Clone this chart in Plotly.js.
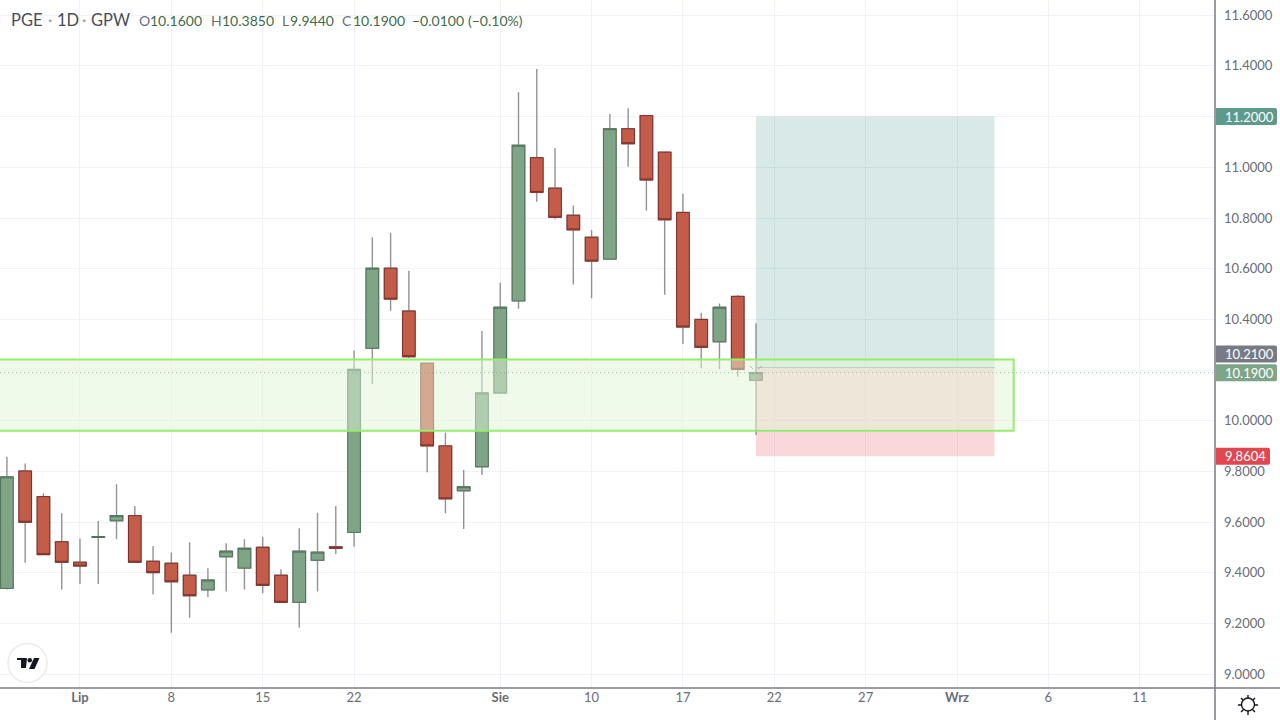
<!DOCTYPE html>
<html>
<head>
<meta charset="utf-8">
<script src="https://cdn.plot.ly/plotly-3.0.1.min.js"></script>
<style>html,body{margin:0;padding:0;background:#fff;overflow:hidden}#c{width:1280px;height:720px}</style>
</head>
<body>
<div id="c"></div>
<script>
const barIndex = [-4,-3,-2,-1,0,1,2,3,4,5,6,7,8,9,10,11,12,13,14,15,16,17,18,19,20,21,22,23,24,25,26,27,28,29,30,31,32,33,34,35,36,37];
const openV  = [9.339,9.802,9.701,9.523,9.442,9.540,9.606,9.626,9.446,9.438,9.391,9.333,9.464,9.419,9.501,9.391,9.284,9.450,9.503,9.560,10.286,10.602,10.433,10.227,9.901,9.724,9.819,10.110,10.473,11.038,10.918,10.811,10.724,10.638,11.152,11.204,11.060,10.822,10.400,10.312,10.491,10.160];
const highV  = [9.858,9.832,9.714,9.635,9.536,9.605,9.750,9.664,9.506,9.481,9.521,9.418,9.517,9.533,9.543,9.414,9.576,9.637,9.664,10.277,10.724,10.742,10.592,10.231,9.953,9.806,10.354,10.545,11.296,11.388,11.076,10.849,10.753,11.210,11.233,11.204,11.060,10.897,10.426,10.463,10.496,10.385];
const lowV   = [9.335,9.440,9.472,9.335,9.356,9.356,9.533,9.442,9.316,9.164,9.223,9.305,9.327,9.335,9.320,9.284,9.184,9.327,9.475,9.503,10.145,10.434,10.248,9.797,9.635,9.573,9.786,10.110,10.442,10.864,10.795,10.538,10.483,10.638,11.002,10.829,10.497,10.303,10.207,10.204,10.174,9.944];
const closeV = [9.779,9.600,9.472,9.442,9.427,9.543,9.626,9.442,9.401,9.365,9.310,9.372,9.486,9.497,9.351,9.284,9.486,9.482,9.497,10.203,10.602,10.480,10.253,9.901,9.692,9.740,10.110,10.448,11.087,10.901,10.803,10.753,10.630,11.152,11.093,10.950,10.793,10.370,10.290,10.448,10.203,10.190];

const priceTicks = [9.0,9.2,9.4,9.6,9.8,10.0,10.2,10.4,10.6,10.8,11.0,11.2,11.4,11.6];
const priceTickText = ['9.0000','9.2000','9.4000','9.6000','9.8000','10.0000','','10.4000','10.6000','10.8000','11.0000','','11.4000','11.6000'];
const timeTickPos = [0,5,10,15,23,28,33,38,43,48,53,58];
const timeTickText = ['<b>Lip</b>','8','15','22','<b>Sie</b>','10','17','22','27','<b>Wrz</b>','6','11'];

const takeProfit = 11.2, entryPrice = 10.21, stopLoss = 9.8604, lastPrice = 10.19;
const zoneTop = 10.242, zoneBottom = 9.961;
const positionStart = 37, positionEnd = 50.05, zoneEnd = 51.1;

const headerParts = [
  {t:'PGE', px:10, size:16.5, c:'#4a4d58'},{t:'·', px:47, size:16.5, c:'#9a9ca5'},
  {t:'1D', px:56, size:16.5, c:'#4a4d58'},{t:'·', px:81, size:16.5, c:'#9a9ca5'},
  {t:'GPW', px:90, size:16.5, c:'#4a4d58'},
  {t:'O', px:138, size:14, c:'#6a6d78'},{t:'10.1600', px:149, size:14, c:'#3f6b4c'},
  {t:'H', px:210, size:14, c:'#6a6d78'},{t:'10.3850', px:221, size:14, c:'#3f6b4c'},
  {t:'L', px:281, size:14, c:'#6a6d78'},{t:'9.9440', px:289, size:14, c:'#3f6b4c'},
  {t:'C', px:341, size:14, c:'#6a6d78'},{t:'10.1900', px:352, size:14, c:'#3f6b4c'},
  {t:'−0.0100', px:411, size:14, c:'#3f6b4c'},{t:'(−0.10%)', px:467, size:14, c:'#3f6b4c'}
];
const badges = [
  {price:takeProfit, text:'11.2000', bg:'#5c9a8b', shift:0, w:62, cx:1249},
  {price:entryPrice, text:'10.2100', bg:'#787b86', shift:13.5, w:62, cx:1249},
  {price:lastPrice, text:'10.1900', bg:'#7ea587', shift:0, w:62, cx:1249},
  {price:stopLoss, text:'9.8604', bg:'#e2474f', shift:0, w:55, cx:1245}
];

const W = 1280, H = 720, mr = 65, mb = 32, PW = W - mr, PH = H - mb;
const FONT = 'Lato, "Noto Sans", sans-serif';
const lineCol = '#787b86';

const pxX = p => p / PW;
const pxY = p => 1 - p / PH;
function anchored(path, extra) {
  return Object.assign({type:'path', xref:'paper', yref:'paper', xsizemode:'pixel', ysizemode:'pixel', xanchor:0, yanchor:0, path, layer:'above', line:{width:0}}, extra);
}
const P = (x,y) => x.toFixed(2) + ',' + (PH - y).toFixed(2);

const wickTrace = {
  type:'candlestick', x:barIndex, open:openV, high:highV, low:lowV, close:closeV,
  increasing:{line:{color:'rgba(120,120,120,0.8)', width:1.4}, fillcolor:'rgba(0,0,0,0)'},
  decreasing:{line:{color:'rgba(120,120,120,0.8)', width:1.4}, fillcolor:'rgba(0,0,0,0)'},
  whiskerwidth:0, hoverinfo:'skip', showlegend:false
};
const bodyTop = openV.map((o,i)=>Math.max(o,closeV[i]));
const bodyBot = openV.map((o,i)=>Math.min(o,closeV[i]));
const bodyTrace = {
  type:'candlestick', x:barIndex, open:openV, high:bodyTop, low:bodyBot, close:closeV,
  increasing:{line:{color:'#4f7459', width:1}, fillcolor:'#7fa486'},
  decreasing:{line:{color:'#7f2f28', width:1}, fillcolor:'#c45c4a'},
  whiskerwidth:0, hoverinfo:'skip', showlegend:false
};

const shapes = [
  {type:'rect', xref:'x', yref:'y', x0:positionStart, x1:positionEnd, y0:entryPrice, y1:takeProfit, fillcolor:'rgba(50,140,125,0.19)', line:{width:0}, layer:'above'},
  {type:'rect', xref:'x', yref:'y', x0:positionStart, x1:positionEnd, y0:stopLoss, y1:entryPrice, fillcolor:'rgba(225,55,75,0.2)', line:{width:0}, layer:'above'},
  {type:'line', xref:'x', yref:'y', x0:positionStart, x1:positionEnd, y0:entryPrice, y1:entryPrice, line:{color:'rgba(120,123,134,0.6)', width:1}, layer:'above'},
  {type:'rect', xref:'x', yref:'y', x0:-6, x1:zoneEnd, y0:zoneBottom, y1:zoneTop, fillcolor:'rgba(225,245,215,0.5)', line:{color:'#93ee6a', width:2}, layer:'above'},
  {type:'line', xref:'paper', yref:'y', x0:0, x1:1, y0:lastPrice, y1:lastPrice, line:{color:'rgba(110,155,120,0.6)', width:1, dash:'1px,3px'}, layer:'above'},
  anchored('M'+P(750,366)+'L'+P(753,369), {line:{color:'rgba(120,123,134,0.5)', width:1}}),
  anchored('M'+P(762,366)+'L'+P(758,369), {line:{color:'rgba(120,123,134,0.5)', width:1}}),
  {type:'line', xref:'paper', yref:'paper', x0:1, x1:1, y0:0, y1:-mb/PH, line:{color:lineCol, width:1.5}, layer:'above'},
  {type:'line', xref:'paper', yref:'paper', x0:0, x1:W/PW, y0:0, y1:0, line:{color:lineCol, width:1.5}, layer:'above'},
  {type:'line', xref:'paper', yref:'paper', x0:1, x1:1, y0:0, y1:1, line:{color:lineCol, width:1.5}, layer:'above'},
  {type:'circle', xref:'paper', yref:'paper', xsizemode:'pixel', ysizemode:'pixel', xanchor:0, yanchor:0, x0:8, x1:47, y0:PH-682.5, y1:PH-643.5, fillcolor:'#ffffff', line:{color:'#efe9e9', width:1.5}, layer:'above'},
  anchored('M'+P(27,658)+'L'+P(17,658)+'L'+P(17,660)+'L'+P(21,660)+'L'+P(21,668)+'L'+P(26,668)+'Z', {fillcolor:'#131722'}),
  anchored('M'+P(34,658)+'L'+P(39.5,658)+'L'+P(34.5,669)+'L'+P(29,669)+'Z', {fillcolor:'#131722'}),
  {type:'circle', xref:'paper', yref:'paper', xsizemode:'pixel', ysizemode:'pixel', xanchor:0, yanchor:0, x0:27.5, x1:32, y0:PH-662.5, y1:PH-658, fillcolor:'#131722', line:{width:0}, layer:'above'},
  {type:'circle', xref:'paper', yref:'paper', xsizemode:'pixel', ysizemode:'pixel', xanchor:0, yanchor:0, x0:1241.5, x1:1254.5, y0:PH-711, y1:PH-698, fillcolor:'rgba(0,0,0,0)', line:{color:'#131722', width:1.4}, layer:'above'},
  anchored([[1248,695,1248,698],[1248,711,1248,715],[1238,705,1241.5,705],[1254.5,705,1258,705],[1241,698,1243.3,700.3],[1255,698,1252.7,700.3],[1241,712,1243.3,709.7],[1255,712,1252.7,709.7]].map(a=>'M'+P(a[0],a[1])+'L'+P(a[2],a[3])).join(''), {line:{color:'#131722', width:1.4}})
];

const annotations = [];
headerParts.forEach(h => annotations.push({
  xref:'paper', yref:'paper', x:pxX(h.px), y:pxY(20), xanchor:'left', yanchor:'middle', showarrow:false,
  text:h.t, font:{family:FONT, size:h.size, color:h.c}, borderpad:0
}));
badges.forEach(b => {
  shapes.push({type:'path', xref:'paper', yref:'y', xsizemode:'pixel', ysizemode:'pixel', xanchor:0, yanchor:b.price,
    path:(()=>{const l=PW+1,r=PW+b.w,t=8.5+b.shift,d=-8.5+b.shift,q=2;
      return `M${l},${t}L${r-q},${t}Q${r},${t} ${r},${t-q}L${r},${d+q}Q${r},${d} ${r-q},${d}L${l},${d}Z`;})(),
    fillcolor:b.bg, line:{width:0}, layer:'above'});
  annotations.push({xref:'paper', yref:'y', x:b.cx/PW, y:b.price, yshift:b.shift, xanchor:'center', yanchor:'middle', showarrow:false,
    text:b.text, font:{family:FONT, size:13, color:'#ffffff'}, borderpad:0});
});

const layout = {
  width:W, height:H, margin:{l:0,r:mr,t:0,b:mb,pad:0},
  paper_bgcolor:'#ffffff', plot_bgcolor:'#ffffff', font:{family:FONT}, showlegend:false, dragmode:false, boxgap:0.17, boxgroupgap:0.17,
  xaxis:{range:[-4.378,62.12], tickmode:'array', tickvals:timeTickPos, ticktext:timeTickText, showgrid:true, gridcolor:'#eff2f8', gridwidth:1,
    zeroline:false, showline:false, ticks:'', tickangle:0, tickfont:{family:FONT,size:13,color:'#696c77'}, rangeslider:{visible:false}, fixedrange:true},
  yaxis:{range:[8.946,11.660], side:'right', tickmode:'array', tickvals:priceTicks, ticktext:priceTickText, ticklabelstandoff:8, showgrid:true, gridcolor:'#eff2f8', gridwidth:1,
    zeroline:false, showline:false, ticks:'', tickfont:{family:FONT,size:13,color:'#696c77'}, fixedrange:true},
  shapes, annotations
};
Plotly.newPlot('c', [wickTrace, bodyTrace], layout, {displayModeBar:false, staticPlot:true});
</script>
</body>
</html>
